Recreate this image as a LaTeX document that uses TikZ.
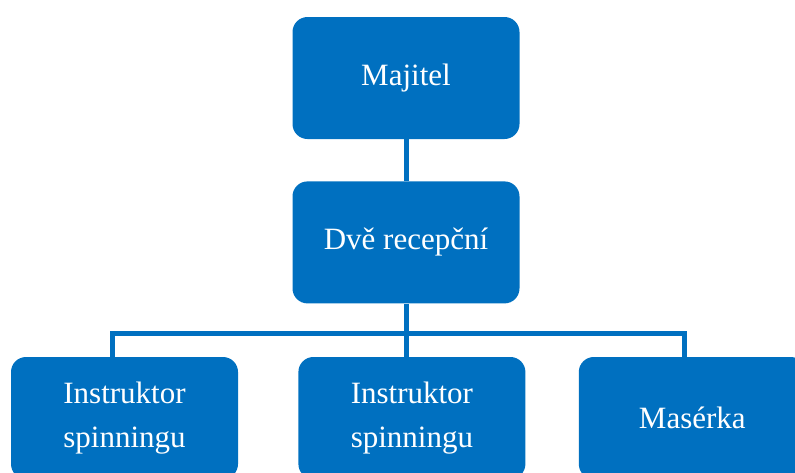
\documentclass[tikz,border=0pt]{standalone}
\usepackage{fontspec}
\setmainfont{Liberation Serif}
\usetikzlibrary{positioning}
\definecolor{orgblue}{RGB}{0,112,192}

\begin{document}
\begin{tikzpicture}[
    x=1pt, y=-1pt,
    font=\fontsize{31}{44}\selectfont,
    unit/.style={fill=orgblue, text=white, rounded corners=15pt, minimum width=227pt, minimum height=122pt, align=center, inner sep=0pt},
    link/.style={draw=orgblue, line width=5pt}
]
\clip (0,0) rectangle (795,472);
\node[unit] (majitel) at (406,78) {Majitel};
\node[unit, below=42pt of majitel] (dve) {Dvě recepční};
\node[unit] (ins1) at (124.5,418) {Instruktor\\spinningu};
\node[unit, right=60pt of ins1] (ins2) {Instruktor\\spinningu};
\node[unit, right=53pt of ins2] (mas) {Masérka};
\coordinate (busL) at (112,333);
\coordinate (busR) at (684,333);
\draw[link] (majitel) -- (dve);
\draw[link] (dve) -- (dve |- ins2.north);
\draw[link] (busL |- ins1.north) -- (busL) -- (busR) -- (busR |- mas.north);
\end{tikzpicture}
\end{document}
